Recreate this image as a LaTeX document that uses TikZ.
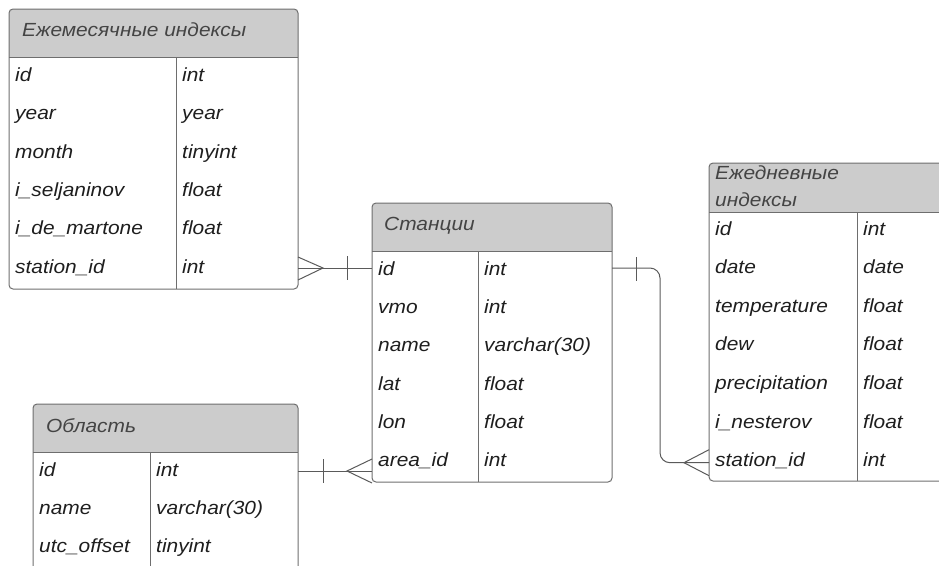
\documentclass[tikz,border=0pt]{standalone}
\usepackage{fontspec}
\setmainfont{Liberation Sans}[FakeStretch=1.1]
\usetikzlibrary{calc}
\definecolor{hdr}{HTML}{CCCCCC}
\definecolor{bord}{HTML}{6E6E6E}
\definecolor{txt}{HTML}{1E1E1E}
\definecolor{htxt}{HTML}{444444}
\definecolor{ln}{HTML}{5A5A5A}
\newcommand\erbox[7]{%
  \path (#2,#3) node[anchor=north west, minimum width=#4pt, minimum height=#5pt, inner sep=0pt, outer sep=0pt] (#1) {};
  \fill[hdr] ($(#1.north west)+(0,#6)$) {[rounded corners=4pt] -- (#1.north west) -- (#1.north east)} -- ($(#1.north east)+(0,#6)$) -- cycle;
  \draw[tbl] (#1.north west) rectangle (#1.south east);
  \draw[tbl] ($(#1.north west)+(0,#6)$) -- ($(#1.north east)+(0,#6)$);
  \draw[tbl] ($(#1.north west)+(#7,#6)$) -- ($(#1.south west)+(#7,0)$);
}
\begin{document}
\begin{tikzpicture}[x=1pt,y=-1pt,
  tbl/.style={draw=bord, line width=1pt, rounded corners=4pt},
  fld/.style={anchor=base west, inner sep=0pt, font=\fontsize{19}{23}\selectfont\itshape, text=txt},
  ttl/.style={anchor=base west, inner sep=0pt, align=left, font=\fontsize{19}{27.4}\selectfont\itshape, text=htxt},
  conn/.style={draw=ln, line width=1pt}]
\useasboundingbox (0,0) rectangle (939,565);
\clip (0,0) rectangle (939,565);

% Ежемесячные индексы
\erbox{m}{9}{9}{289}{280}{48}{167}
\node[ttl] (mt) at (22,36.7) {Ежемесячные индексы};
\node[fld] (m1) at (15,81.5) {id};
\node[fld] (m2) at (15,119.8) {year};
\node[fld] (m3) at (15,158.1) {month};
\node[fld] (m4) at (15,196.4) {i\_seljaninov};
\node[fld] (m5) at (15,234.7) {i\_de\_martone};
\node[fld] (m6) at (15,273) {station\_id};
\node[fld] (mT1) at (182,81.5) {int};
\node[fld] (mT2) at (182,119.8) {year};
\node[fld] (mT3) at (182,158.1) {tinyint};
\node[fld] (mT4) at (182,196.4) {float};
\node[fld] (mT5) at (182,234.7) {float};
\node[fld] (mT6) at (182,273) {int};

% Станции
\erbox{s}{372}{203}{240}{279}{48}{106}
\node[ttl] (st) at (384,230) {Станции};
\node[fld] (s1) at (378,275) {id};
\node[fld] (s2) at (378,313.3) {vmo};
\node[fld] (s3) at (378,351.7) {name};
\node[fld] (s4) at (378,390) {lat};
\node[fld] (s5) at (378,428.3) {lon};
\node[fld] (s6) at (378,466.7) {area\_id};
\node[fld] (sT1) at (484,275) {int};
\node[fld] (sT2) at (484,313.3) {int};
\node[fld] (sT3) at (484,351.7) {varchar(30)};
\node[fld] (sT4) at (484,390) {float};
\node[fld] (sT5) at (484,428.3) {float};
\node[fld] (sT6) at (484,466.7) {int};

% Область
\erbox{a}{33}{404}{265}{185}{48}{117}
\node[ttl] (at) at (46,432.3) {Область};
\node[fld] (a1) at (39,476) {id};
\node[fld] (a2) at (39,514.3) {name};
\node[fld] (a3) at (39,552.7) {utc\_offset};
\node[fld] (aT1) at (156,476) {int};
\node[fld] (aT2) at (156,514.3) {varchar(30)};
\node[fld] (aT3) at (156,552.7) {tinyint};

% Ежедневные индексы
\erbox{d}{709}{163}{260}{318}{49}{148}
\node[ttl] (dt) at (715,206.7) {Ежедневные\\индексы};
\node[fld] (d1) at (715,235) {id};
\node[fld] (d2) at (715,273.6) {date};
\node[fld] (d3) at (715,312.2) {temperature};
\node[fld] (d4) at (715,350.8) {dew};
\node[fld] (d5) at (715,389.4) {precipitation};
\node[fld] (d6) at (715,428) {i\_nesterov};
\node[fld] (d7) at (715,466.7) {station\_id};
\node[fld] (dT1) at (863,235) {int};
\node[fld] (dT2) at (863,273.6) {date};
\node[fld] (dT3) at (863,312.2) {float};
\node[fld] (dT4) at (863,350.8) {float};
\node[fld] (dT5) at (863,389.4) {float};
\node[fld] (dT6) at (863,428) {float};
\node[fld] (dT7) at (863,466.7) {int};

% Ежемесячные (many) -- Станции (one)
\draw[conn] ($(s1.base -| m.east)+(0,-7)$) -- ($(s1.base -| s.west)+(0,-7)$);
\draw[conn] ($(s1.base -| m.east)+(0,-18)$) -- ($(s1.base -| m.east)+(25,-7)$) -- ($(s1.base -| m.east)+(0,5)$);
\draw[conn] ($(s1.base -| s.west)+(-25,-19)$) -- ++(0,24);

% Область (one) -- Станции (many)
\draw[conn] ($(a1.base -| a.east)+(0,-5)$) -- ($(a1.base -| s.west)+(0,-5)$);
\draw[conn] ($(a1.base -| a.east)+(25,-17)$) -- ++(0,24);
\draw[conn] ($(a1.base -| s.west)+(0,-17)$) -- ($(a1.base -| s.west)+(-25,-5)$) -- ($(a1.base -| s.west)+(0,7)$);

% Станции (one) -- Ежедневные (many)
\draw[conn, rounded corners=10pt] ($(s1.base -| s.east)+(0,-7)$) -| ($(d7.base -| d.west)+(-49,-4)$) -- ($(d7.base -| d.west)+(0,-4)$);
\draw[conn] ($(s1.base -| s.east)+(24,-18)$) -- ++(0,24);
\draw[conn] ($(d7.base -| d.west)+(0,-17)$) -- ($(d7.base -| d.west)+(-25,-4)$) -- ($(d7.base -| d.west)+(0,9)$);
\end{tikzpicture}
\end{document}
